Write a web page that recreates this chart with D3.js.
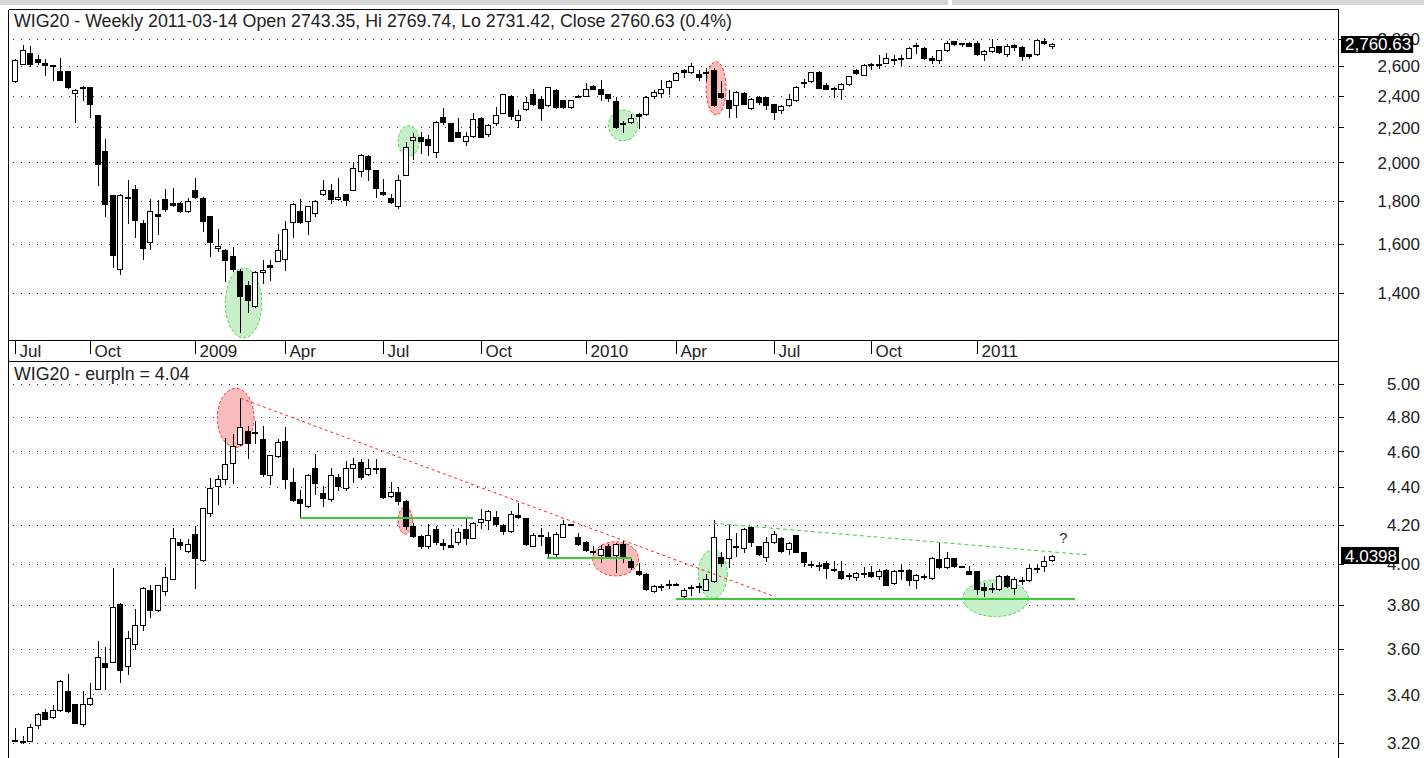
<!DOCTYPE html>
<html><head><meta charset="utf-8">
<script src="https://cdn.jsdelivr.net/npm/d3@7"></script>
<style>
body{margin:0;background:#fff;}
svg{display:block;font-family:"Liberation Sans",Arial,sans-serif;}
</style>
</head><body>
<svg id="c" width="1424" height="758"></svg>
<script>
// ---------------- DATA ----------------
const firstWeek = "2008-07-21";   // Monday of first weekly bar (139 bars to 2011-03-14)
const wigOpen = [2494,2617,2692,2648,2619,2605,2569,2569,2419,2454,2454,2276,2065,1828,1495,1819,1860,1697,1609,1738,1809,1791,1791,1754,1853,1817,1726,1582,1575,1550,1486,1433,1352,1482,1513,1529,1539,1702,1754,1707,1741,1834,1853,1809,1834,1853,1952,2038,1957,1846,1814,1776,1935,2128,2143,2133,2055,2262,2225,2171,2118,2152,2256,2162,2229,2291,2400,2245,2311,2407,2377,2338,2435,2369,2324,2394,2400,2466,2442,2407,2363,2221,2231,2283,2283,2395,2416,2454,2506,2571,2557,2548,2557,2576,2416,2369,2338,2416,2317,2389,2389,2342,2307,2338,2369,2482,2494,2557,2470,2447,2440,2477,2576,2537,2607,2605,2624,2648,2653,2660,2749,2733,2660,2643,2716,2781,2769,2773,2769,2684,2708,2745,2691,2757,2740,2684,2684,2788,2743.35];
const wigHigh = [2650,2752,2745,2680,2648,2607,2655,2569,2440,2463,2459,2276,2132,1828,1834,1909,1879,1710,1809,1805,1860,1865,1795,1815,1917,1822,1726,1670,1578,1589,1495,1446,1486,1535,1533,1646,1706,1791,1809,1776,1805,1905,1888,1917,1834,2004,2046,2042,1960,1912,1836,1931,2112,2166,2175,2156,2241,2317,2229,2256,2175,2291,2266,2221,2324,2412,2405,2307,2389,2440,2400,2454,2440,2373,2373,2405,2482,2470,2501,2412,2389,2241,2283,2287,2394,2435,2501,2506,2557,2581,2619,2576,2588,2588,2494,2435,2430,2424,2383,2400,2393,2344,2338,2407,2463,2510,2562,2564,2482,2459,2482,2534,2581,2612,2624,2677,2696,2677,2677,2737,2769,2737,2672,2720,2781,2786,2773,2775,2781,2720,2798,2749,2764,2762,2745,2688,2798,2810,2769.74];
const wigLow = [2490,2612,2600,2612,2536,2506,2501,2447,2235,2369,2266,1883,1726,1506,1477,1694,1633,1539,1578,1646,1754,1776,1745,1748,1815,1659,1548,1572,1446,1486,1261,1330,1348,1440,1453,1529,1490,1633,1697,1646,1726,1831,1791,1803,1781,1853,1926,1909,1822,1829,1791,1765,1935,2021,2052,2042,2029,2221,2118,2146,2095,2146,2146,2150,2214,2287,2249,2200,2307,2338,2245,2332,2317,2317,2317,2389,2396,2440,2369,2363,2194,2175,2229,2194,2276,2384,2389,2412,2501,2525,2553,2501,2506,2332,2384,2266,2266,2344,2313,2348,2311,2249,2287,2332,2365,2459,2488,2447,2440,2389,2379,2473,2548,2535,2583,2588,2619,2612,2605,2655,2696,2653,2619,2619,2708,2757,2745,2745,2677,2643,2703,2696,2672,2720,2643,2655,2677,2764,2731.42];
const wigClose = [2641,2716,2617,2629,2605,2600,2501,2454,2435,2449,2348,1991,1784,1552,1828,1822,1710,1582,1751,1729,1762,1783,1751,1798,1819,1707,1609,1594,1535,1495,1388,1374,1482,1492,1506,1575,1670,1788,1702,1774,1802,1853,1812,1819,1805,1969,2042,1966,1865,1833,1795,1905,2086,2143,2118,2099,2235,2235,2118,2146,2150,2249,2146,2214,2276,2407,2272,2276,2359,2344,2317,2454,2324,2324,2369,2400,2440,2442,2407,2384,2200,2225,2256,2270,2389,2424,2440,2494,2553,2557,2600,2525,2562,2338,2389,2317,2424,2348,2379,2359,2338,2297,2334,2375,2459,2492,2557,2447,2442,2442,2475,2529,2553,2607,2612,2617,2660,2653,2660,2733,2754,2660,2643,2716,2769,2764,2764,2749,2684,2708,2740,2703,2749,2740,2672,2672,2793,2769,2760.63];

const eurOpen = [3.214,3.208,3.210,3.273,3.327,3.306,3.334,3.415,3.359,3.276,3.359,3.425,3.536,3.542,3.805,3.524,3.620,3.709,3.874,3.778,3.866,3.926,4.108,4.066,4.150,4.019,4.263,4.406,4.443,4.535,4.644,4.720,4.714,4.670,4.467,4.572,4.660,4.428,4.334,4.298,4.504,4.366,4.334,4.455,4.396,4.504,4.539,4.470,4.507,4.504,4.352,4.373,4.325,4.192,4.141,4.091,4.175,4.104,4.094,4.111,4.178,4.129,4.213,4.222,4.241,4.200,4.166,4.248,4.232,4.091,4.141,4.138,4.047,4.138,4.203,4.136,4.108,4.066,4.044,4.087,4.044,4.099,4.015,3.966,3.950,3.866,3.889,3.899,3.902,3.841,3.884,3.891,3.874,3.913,4.035,4.027,4.086,4.079,4.188,4.087,4.035,4.108,4.129,4.074,4.145,4.057,3.998,3.994,4.003,3.974,3.963,3.940,3.934,3.948,3.961,3.939,3.971,3.907,3.965,3.971,3.921,3.937,3.931,4.023,3.982,4.029,3.990,3.963,3.963,3.886,3.876,3.878,3.942,3.881,3.916,3.918,3.976,3.987,4.018];
const eurHigh = [3.262,3.228,3.276,3.324,3.338,3.354,3.461,3.488,3.362,3.415,3.448,3.635,3.605,3.977,3.808,3.681,3.782,3.886,3.894,3.897,3.982,4.183,4.124,4.124,4.195,4.289,4.452,4.465,4.680,4.700,4.918,4.750,4.780,4.750,4.582,4.670,4.740,4.507,4.387,4.470,4.587,4.405,4.504,4.470,4.545,4.563,4.557,4.554,4.557,4.507,4.427,4.400,4.328,4.209,4.145,4.205,4.195,4.124,4.178,4.183,4.230,4.212,4.284,4.277,4.272,4.203,4.272,4.312,4.236,4.158,4.183,4.161,4.161,4.222,4.205,4.158,4.116,4.091,4.094,4.099,4.104,4.116,4.027,4.003,3.953,3.895,3.899,3.921,3.904,3.881,3.894,3.907,3.950,4.222,4.060,4.197,4.158,4.183,4.195,4.091,4.133,4.166,4.133,4.111,4.148,4.060,4.015,4.010,4.015,4.013,4.015,3.952,3.958,3.982,3.987,3.974,3.974,3.971,3.998,3.974,3.950,3.950,4.035,4.104,4.060,4.031,3.990,3.987,3.965,3.907,3.907,3.945,3.945,3.934,3.937,3.998,3.998,4.040,4.043];
const eurLow = [3.207,3.200,3.207,3.262,3.296,3.303,3.331,3.328,3.280,3.269,3.356,3.422,3.422,3.539,3.454,3.488,3.600,3.686,3.743,3.774,3.849,3.923,4.074,4.060,3.881,4.014,4.245,4.307,4.415,4.420,4.634,4.563,4.650,4.461,4.415,4.569,4.396,4.325,4.236,4.295,4.361,4.298,4.325,4.384,4.387,4.427,4.446,4.467,4.480,4.343,4.348,4.307,4.175,4.138,4.077,4.077,4.099,4.074,4.082,4.099,4.099,4.128,4.183,4.175,4.192,4.150,4.163,4.236,4.096,4.087,4.094,4.040,4.035,4.133,4.200,4.097,4.066,4.049,4.007,4.032,3.961,4.007,3.974,3.945,3.874,3.861,3.870,3.881,3.899,3.837,3.847,3.861,3.872,3.910,3.987,3.982,4.040,4.057,4.091,4.042,4.015,4.104,4.060,4.049,4.057,3.990,3.982,3.971,3.929,3.966,3.926,3.926,3.918,3.934,3.934,3.926,3.894,3.902,3.926,3.894,3.881,3.926,3.926,3.977,3.977,3.982,3.987,3.948,3.851,3.841,3.861,3.874,3.886,3.851,3.902,3.913,3.958,3.966,4.015];
const eurClose = [3.210,3.205,3.265,3.320,3.299,3.334,3.458,3.331,3.283,3.359,3.386,3.563,3.517,3.789,3.507,3.646,3.705,3.881,3.778,3.894,3.934,4.129,4.094,4.099,4.029,4.286,4.396,4.446,4.530,4.630,4.740,4.650,4.706,4.470,4.578,4.654,4.446,4.330,4.312,4.467,4.420,4.343,4.467,4.406,4.507,4.530,4.457,4.504,4.502,4.346,4.375,4.325,4.195,4.141,4.091,4.145,4.108,4.094,4.086,4.161,4.128,4.209,4.227,4.272,4.205,4.166,4.254,4.241,4.099,4.145,4.145,4.054,4.150,4.203,4.202,4.099,4.069,4.057,4.074,4.040,4.099,4.027,3.982,3.950,3.878,3.891,3.892,3.902,3.900,3.872,3.887,3.884,3.926,4.138,4.003,4.124,4.089,4.175,4.108,4.047,4.111,4.150,4.066,4.104,4.060,4.007,3.994,3.990,3.977,3.969,3.931,3.944,3.955,3.952,3.939,3.963,3.897,3.966,3.968,3.918,3.945,3.940,4.029,3.982,4.031,3.987,3.987,3.950,3.878,3.874,3.879,3.942,3.891,3.923,3.920,3.977,3.981,4.015,4.0398];

const topTicks = [1400,1600,1800,2000,2200,2400,2600,2800];
const botTicks = [3.20,3.40,3.60,3.80,4.00,4.20,4.40,4.60,4.80,5.00];
const monthTickDates = ["2008-07-21","2008-09-29","2009-01-05","2009-03-30","2009-06-29","2009-09-28","2010-01-04","2010-03-29","2010-06-28","2010-09-27","2011-01-03"];
const monthTickLabels = ["Jul","Oct","2009","Apr","Jul","Oct","2010","Apr","Jul","Oct","2011"];

const topTitle = "WIG20 - Weekly 2011-03-14 Open 2743.35, Hi 2769.74, Lo 2731.42, Close 2760.63 (0.4%)";
const botTitle = "WIG20 - eurpln = 4.04";

// annotations (week index, value)
const topEllipses = [
  {w0:28.0, w1:32.84, v0:1240, v1:1500, kind:"g"},
  {w0:51.0, w1:53.8, v0:2032, v1:2211, kind:"g"},
  {w0:79.0, w1:82.9, v0:2122, v1:2307, kind:"g"},
  {w0:92.0, w1:94.65, v0:2276, v1:2632, kind:"r"}
];
const botEllipses = [
  {w0:26.93, w1:31.82, v0:4.623, v1:4.975, kind:"r"},
  {w0:51.0, w1:52.9, v0:4.151, v1:4.294, kind:"r"},
  {w0:76.9, w1:83.0, v0:3.940, v1:4.111, kind:"r"},
  {w0:90.96, w1:94.82, v0:3.832, v1:4.069, kind:"g"},
  {w0:126.16, w1:134.9, v0:3.746, v1:3.920, kind:"g"}
];
const redTrend = {w0:30, v0:4.914, w1:101.2, v1:3.839};
const greenDashTrend = {w0:92.96, v0:4.207, w1:143.0, v1:4.044};
const supportLines = [
  {w0:37.9, w1:61.0, v:4.233},
  {w0:70.86, w1:82.1, v:4.027},
  {w0:88.0, w1:141.1, v:3.827}
];
const questionMark = {w:139.55, v:4.105, text:"?"};

// ---------------- DRAW ----------------
const svg = d3.select("#c");
const parse = d3.timeParse("%Y-%m-%d");
const week0 = parse(firstWeek);
const weeks = d3.range(wigClose.length).map(i => d3.timeWeek.offset(week0, i));
const xL = 8.5, xR = 1338.5, top1 = 9.5, bot1 = 340.5, top2 = 361.5, bot2 = 760;

const x = d3.scaleTime().domain([weeks[0], weeks[weeks.length-1]]).range([15, 1051.7]);
const wx = w => x(new Date(+week0 + w*7*864e5));
const yTop = d3.scaleLog().domain([1231, 3034]).range([bot1, top1]);
const yBot = d3.scaleLog().domain([3.134, 5.144]).range([bot2, top2]);

// top gray strip
svg.append("rect").attr("x",0).attr("y",0).attr("width",948).attr("height",5).attr("fill","#d6d6d6");
svg.append("rect").attr("x",952).attr("y",0).attr("width",472).attr("height",5).attr("fill","#d6d6d6");

// gridlines
function grid(ticks, y){
  svg.append("g").selectAll("line").data(ticks).join("line")
    .attr("x1",13).attr("x2",1335)
    .attr("y1",d=>Math.round(y(d))+0.5).attr("y2",d=>Math.round(y(d))+0.5)
    .attr("stroke","#333").attr("stroke-width",1).attr("stroke-dasharray","1,7")
    .attr("shape-rendering","crispEdges");
}
grid(topTicks, yTop);
grid(botTicks, yBot);

// ellipses
const fills = {g:"#c8f0c8", r:"#f8bcbc"}, strokes = {g:"#50d050", r:"#ff3030"};
function ellipses(data, y){
  svg.append("g").selectAll("ellipse").data(data).join("ellipse")
    .attr("cx", d => (wx(d.w0)+wx(d.w1))/2)
    .attr("cy", d => (y(d.v0)+y(d.v1))/2)
    .attr("rx", d => Math.abs(wx(d.w1)-wx(d.w0))/2)
    .attr("ry", d => Math.abs(y(d.v0)-y(d.v1))/2)
    .attr("fill", d => fills[d.kind])
    .attr("stroke", d => strokes[d.kind])
    .attr("stroke-width",1).attr("stroke-dasharray","3,2");
}
ellipses(topEllipses, yTop);
ellipses(botEllipses, yBot);

// candles
function candles(O,Hh,L,C,y){
  const g = svg.append("g").attr("shape-rendering","crispEdges");
  const idx = d3.range(C.length);
  g.selectAll("line").data(idx).join("line")
    .attr("x1", i => Math.round(x(weeks[i]))+0.5).attr("x2", i => Math.round(x(weeks[i]))+0.5)
    .attr("y1", i => Math.round(y(Hh[i]))).attr("y2", i => Math.round(y(L[i]))+1)
    .attr("stroke","#000");
  g.selectAll("rect").data(idx).join("rect")
    .attr("x", i => Math.round(x(weeks[i]))-2.5)
    .attr("width", 5)
    .attr("y", i => Math.round(y(Math.max(O[i],C[i])))+0.5)
    .attr("height", i => Math.max(1, Math.round(y(Math.min(O[i],C[i]))) - Math.round(y(Math.max(O[i],C[i])))))
    .attr("fill", i => C[i] >= O[i] ? "#fff" : "#000")
    .attr("stroke","#000").attr("stroke-width",1);
}
candles(wigOpen, wigHigh, wigLow, wigClose, yTop);
candles(eurOpen, eurHigh, eurLow, eurClose, yBot);

// trend lines
svg.append("line")
  .attr("x1", wx(redTrend.w0)).attr("y1", yBot(redTrend.v0))
  .attr("x2", wx(redTrend.w1)).attr("y2", yBot(redTrend.v1))
  .attr("stroke","#ff2020").attr("stroke-width",1).attr("stroke-dasharray","3,3");
svg.append("line")
  .attr("x1", wx(greenDashTrend.w0)).attr("y1", yBot(greenDashTrend.v0))
  .attr("x2", wx(greenDashTrend.w1)).attr("y2", yBot(greenDashTrend.v1))
  .attr("stroke","#40d040").attr("stroke-width",1).attr("stroke-dasharray","4,3");
svg.append("g").selectAll("line").data(supportLines).join("line")
  .attr("x1", d => wx(d.w0)).attr("x2", d => wx(d.w1))
  .attr("y1", d => Math.round(yBot(d.v))).attr("y2", d => Math.round(yBot(d.v)))
  .attr("stroke","#3cc83c").attr("stroke-width",2).attr("shape-rendering","crispEdges");
svg.append("text").attr("x", wx(questionMark.w)).attr("y", yBot(questionMark.v))
  .attr("text-anchor","middle").attr("font-size",15).attr("fill","#333").text(questionMark.text);

// frame
const frame = svg.append("g").attr("stroke","#000").attr("stroke-width",1).attr("shape-rendering","crispEdges");
frame.append("line").attr("x1",xL).attr("x2",xR).attr("y1",top1).attr("y2",top1);
frame.append("line").attr("x1",xL).attr("x2",xR).attr("y1",bot1).attr("y2",bot1);
frame.append("line").attr("x1",xL).attr("x2",xR).attr("y1",top2).attr("y2",top2);
frame.append("line").attr("x1",xL).attr("x2",xL).attr("y1",top1).attr("y2",758);
frame.append("line").attr("x1",xR).attr("x2",xR).attr("y1",top1).attr("y2",758);

// right axes
function rightAxis(ticks, y, fmt){
  const g = svg.append("g");
  g.selectAll("line").data(ticks).join("line")
    .attr("x1",xR).attr("x2",xR+5)
    .attr("y1",d=>Math.round(y(d))+0.5).attr("y2",d=>Math.round(y(d))+0.5)
    .attr("stroke","#000").attr("shape-rendering","crispEdges");
  g.selectAll("text").data(ticks).join("text")
    .attr("x",1420).attr("y",d=>y(d)).attr("dy","0.36em")
    .attr("text-anchor","end").attr("font-size",17).attr("fill","#222")
    .text(fmt);
}
rightAxis(topTicks, yTop, d3.format(","));
rightAxis(botTicks, yBot, d3.format(".2f"));

// last price boxes
function priceBox(val, y, txt){
  const cy = y(val);
  const g = svg.append("g");
  const t = g.append("text").attr("x",1345).attr("y",cy).attr("dy","0.36em")
    .attr("font-size",17).attr("fill","#fff").text(txt);
  const w = t.node().getComputedTextLength();
  g.insert("rect","text").attr("x",1341).attr("y",Math.round(cy-8.5)).attr("width",w+6).attr("height",17).attr("fill","#000");
}
priceBox(wigClose[wigClose.length-1], yTop, d3.format(",.2f")(wigClose[wigClose.length-1]));
priceBox(eurClose[eurClose.length-1], yBot, d3.format(".4f")(eurClose[eurClose.length-1]));

// month axis
const mg = svg.append("g");
monthTickDates.forEach((d,i) => {
  const px = Math.round(x(parse(d)))+0.5;
  mg.append("line").attr("x1",px).attr("x2",px).attr("y1",341).attr("y2",354)
    .attr("stroke","#000").attr("shape-rendering","crispEdges");
  mg.append("text").attr("x",px+4).attr("y",357).attr("font-size",17).attr("fill","#222").text(monthTickLabels[i]);
});

// titles
svg.append("text").attr("x",14).attr("y",26.5).attr("font-size",17.8).attr("fill","#222").text(topTitle);
svg.append("text").attr("x",14).attr("y",379.5).attr("font-size",17.8).attr("fill","#222").text(botTitle);
</script>
</body></html>
